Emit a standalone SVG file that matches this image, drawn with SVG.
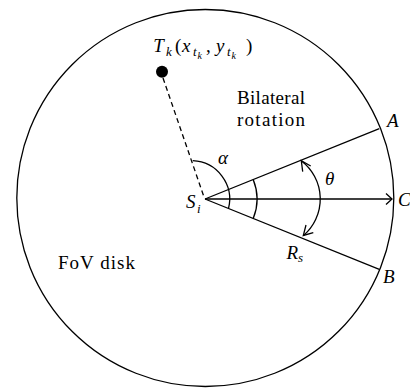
<svg xmlns="http://www.w3.org/2000/svg" width="410" height="389" viewBox="0 0 410 389">
<style>
.ln{fill:none;stroke:#000;stroke-width:1.3}
.t{font-family:'Liberation Serif','DejaVu Serif',serif;font-size:19px;fill:#000}
.i{font-style:italic}
.sb{font-size:13px}
.ss{font-size:10px}
</style>
<rect width="410" height="389" fill="#fff"/>
<g id="fov-disk">
<circle class="ln" cx="205.3" cy="198" r="188.5"/>
<text class="t" x="58" y="269" textLength="77" lengthAdjust="spacing">FoV disk</text>
</g>
<g id="connectors">
<line class="ln" x1="163" y1="78" x2="204" y2="197" stroke-dasharray="5,3.5"/>
<line class="ln" x1="205" y1="199" x2="379.3" y2="128.6"/>
<line class="ln" x1="205" y1="199" x2="379.3" y2="269.4"/>
<line class="ln" x1="205" y1="199" x2="392" y2="199"/>
<polyline class="ln" points="386,193.5 392,199 386,204.5"/>
<path class="ln" d="M192.7,160.7 A38.5,38.5 0 0 1 228.5,208.5"/>
<path class="ln" d="M253.2,179.5 A52,52 0 0 1 253.2,218.5"/>
<path class="ln" d="M301.5,161 A48,48 0 0 1 303.5,235.5"/>
<polyline class="ln" points="302.7,171.7 301.3,160.8 310.7,166"/>
<polyline class="ln" points="306,225 303.3,235.5 313.3,232.7"/>
</g>
<g id="target">
<circle cx="162" cy="71.7" r="6" fill="#000"/>
<text class="t" font-size="20"><tspan class="i" x="153.3" y="52">T</tspan><tspan class="i sb" x="166" y="56">k</tspan><tspan x="175" y="52">(</tspan><tspan class="i" x="182" y="52">x</tspan><tspan class="i sb" x="193" y="56">t</tspan><tspan class="i ss" x="197.5" y="59">k</tspan><tspan x="206" y="52">,</tspan><tspan class="i" x="216" y="52">y</tspan><tspan class="i sb" x="227" y="56">t</tspan><tspan class="i ss" x="231.5" y="59">k</tspan><tspan x="246" y="52">)</tspan></text>
</g>
<g id="sensor">
<text class="t i" x="186" y="208">S<tspan class="sb" x="197" y="213">i</tspan></text>
</g>
<g id="labels">
<text class="t" x="237" y="103.5" textLength="68" lengthAdjust="spacing">Bilateral</text>
<text class="t" x="237" y="125.5" textLength="68" lengthAdjust="spacing">rotation</text>
<text class="t i" x="218" y="164">α</text>
<text class="t i" x="325" y="185">θ</text>
<text class="t i" x="286.5" y="258.5">R<tspan class="sb" x="298" y="262">s</tspan></text>
<text class="t i" x="387" y="127">A</text>
<text class="t i" x="383" y="283">B</text>
<text class="t i" x="398" y="205.5">C</text>
</g>
</svg>
